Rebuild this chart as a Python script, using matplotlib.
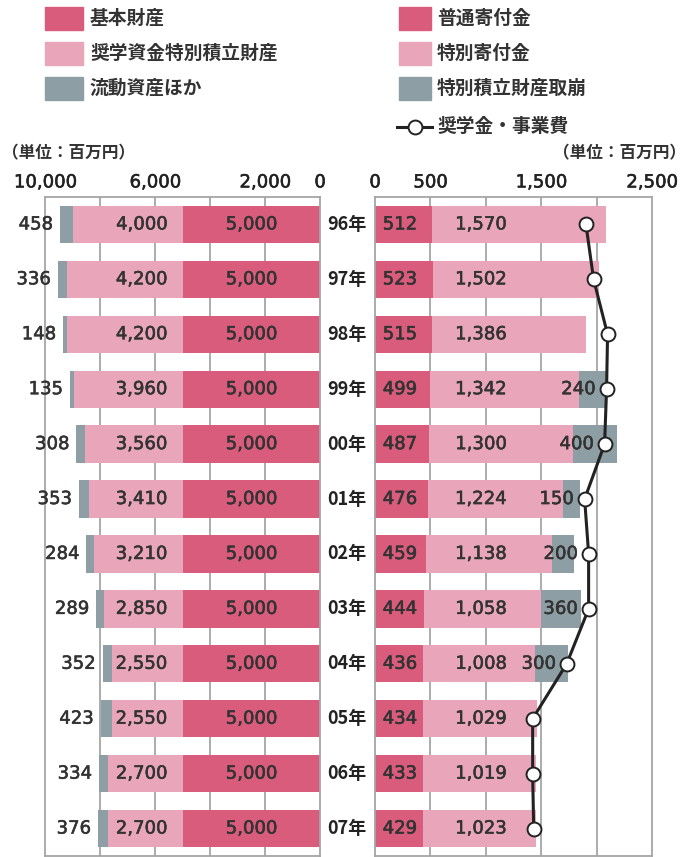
import matplotlib
matplotlib.use('Agg')
import matplotlib.pyplot as plt
import matplotlib.transforms as mtrans
import matplotlib.patheffects as pe
from matplotlib.patches import Rectangle
from matplotlib.lines import Line2D
import numpy as np

# Data
years = ['96年', '97年', '98年', '99年', '00年', '01年', '02年', '03年', '04年', '05年', '06年', '07年']
# left: 資産
kihon = [5000] * 12
shogaku = [4000, 4200, 4200, 3960, 3560, 3410, 3210, 2850, 2550, 2550, 2700, 2700]
ryudo = [458, 336, 148, 135, 308, 353, 284, 289, 352, 423, 334, 376]
# right: 収入と支出
futsu = [512, 523, 515, 499, 487, 476, 459, 444, 436, 434, 433, 429]
tokubetsu = [1570, 1502, 1386, 1342, 1300, 1224, 1138, 1058, 1008, 1029, 1019, 1023]
torikuzushi = [0, 0, 0, 240, 400, 150, 200, 360, 300, 0, 0, 0]
jigyohi = [1904, 1973, 2099, 2090, 2072, 1892, 1928, 1928, 1730, 1423, 1423, 1432]

left_ticks = [10000, 6000, 2000, 0]
right_ticks = [0, 500, 1500, 2500]

c_dark = '#d95c7c'
c_light = '#e9a6bb'
c_gray = '#8d9fa4'
c_text = '#333333'
c_grid = '#a5a5a5'
jp = ['Noto Sans CJK JP', 'DejaVu Sans']
# digits a little heavier, like the print
thick = [pe.withStroke(linewidth=0.4, foreground=c_text)]

W, H = 696, 857
fig = plt.figure(figsize=(W / 100, H / 100), dpi=100)

def fx(px):
    return px / W

def fy(py):
    return 1 - py / H

ax_top, ax_bot = 197, 856
ax1 = fig.add_axes([fx(45), fy(ax_bot), fx(320) - fx(45), (ax_bot - ax_top) / H])
ax2 = fig.add_axes([fx(375), fy(ax_bot), fx(652) - fx(375), (ax_bot - ax_top) / H])

y = np.arange(len(years))
bh = 0.68
num = dict(fontsize=13, color=c_text, va='center', path_effects=thick)

# Left panel
ax1.barh(y, kihon, height=bh, color=c_dark, zorder=2)
ax1.barh(y, shogaku, left=kihon, height=bh, color=c_light, zorder=2)
left3 = np.array(kihon) + np.array(shogaku)
ax1.barh(y, ryudo, left=left3, height=bh, color=c_gray, zorder=2)
ax1.set_xlim(10000, 0)
ax1.set_ylim(len(years) - 0.5, -0.5)

for i in range(len(years)):
    ax1.text(2500, i, f'{kihon[i]:,}', ha='center', zorder=3, **num)
    ax1.text(5560, i, f'{shogaku[i]:,}', ha='right', zorder=3, **num)
    ax1.annotate(f'{ryudo[i]:,}', xy=(left3[i] + ryudo[i], i), xytext=(-5, 0),
                 textcoords='offset points', ha='right', **num)

# Right panel
ax2.barh(y, futsu, height=bh, color=c_dark, zorder=2)
ax2.barh(y, tokubetsu, left=futsu, height=bh, color=c_light, zorder=2)
left_r = np.array(futsu) + np.array(tokubetsu)
ax2.barh(y, torikuzushi, left=left_r, height=bh, color=c_gray, zorder=2)
ax2.plot(jigyohi, y, color='#222222', lw=2.2, marker='o', markersize=10,
         markerfacecolor='white', markeredgecolor='#222222', markeredgewidth=1.4, zorder=4,
         clip_on=False)
ax2.set_xlim(0, 2500)
ax2.set_ylim(len(years) - 0.5, -0.5)

for i in range(len(years)):
    ax2.text(225, i, f'{futsu[i]:,}', ha='center', zorder=3, **num)
    ax2.text(955, i, f'{tokubetsu[i]:,}', ha='center', zorder=3, **num)
    if torikuzushi[i] > 0:
        ax2.annotate(f'{torikuzushi[i]:,}', xy=(jigyohi[i], i), xytext=(-8, 0),
                     textcoords='offset points', ha='right', zorder=3, **num)

for ax, ticks, grid in [(ax1, left_ticks, [2000, 4000, 6000, 8000]),
                        (ax2, right_ticks, [500, 1000, 1500, 2000])]:
    ax.xaxis.tick_top()
    ax.set_xticks(ticks)
    ax.set_xticklabels([f'{t:,}' for t in ticks], fontsize=13, color='#222222')
    for lab in ax.get_xticklabels():
        lab.set_path_effects([pe.withStroke(linewidth=0.4, foreground='#222222')])
    ax.tick_params(axis='x', length=0, pad=4)
    ax.set_yticks([])
    for g in grid:
        ax.axvline(g, color=c_grid, lw=1.3, zorder=1)
    for s in ax.spines.values():
        s.set_color(c_grid)
        s.set_linewidth(1.3)

# year labels between panels
trans = mtrans.blended_transform_factory(fig.transFigure, ax1.transData)
for i, yr in enumerate(years):
    ax1.text(fx(347), i, yr, transform=trans, ha='center', va='center',
             fontsize=13, family=jp, weight='bold', color='#222222')

# unit labels
fig.text(fx(2), fy(153), '（単位：百万円）', ha='left', va='center', fontsize=12, family=jp,
         weight='bold', color='#333333')
fig.text(fx(686), fy(153), '（単位：百万円）', ha='right', va='center', fontsize=12, family=jp,
         weight='bold', color='#333333')

# legend
leg_left = [('基本財産', c_dark), ('奨学資金特別積立財産', c_light), ('流動資産ほか', c_gray)]
leg_right = [('普通寄付金', c_dark), ('特別寄付金', c_light), ('特別積立財産取崩', c_gray)]
rows = [18, 53, 88]
for (lab, col), ry in zip(leg_left, rows):
    fig.add_artist(Rectangle((fx(45), fy(ry + 11.5)), fx(83) - fx(45), 23 / H,
                             transform=fig.transFigure, color=col))
    fig.text(fx(90), fy(ry), lab, ha='left', va='center', fontsize=13.5, family=jp,
             weight='bold', color='#333333')
for (lab, col), ry in zip(leg_right, rows):
    fig.add_artist(Rectangle((fx(399), fy(ry + 11.5)), fx(431) - fx(399), 23 / H,
                             transform=fig.transFigure, color=col))
    fig.text(fx(437), fy(ry), lab, ha='left', va='center', fontsize=13.5, family=jp,
             weight='bold', color='#333333')
fig.add_artist(Line2D([fx(397), fx(432)], [fy(127), fy(127)], transform=fig.transFigure,
                      color='#222222', lw=2.2))
fig.add_artist(Line2D([fx(414.5)], [fy(127)], transform=fig.transFigure, marker='o',
                      markersize=10, markerfacecolor='white', markeredgecolor='#222222',
                      markeredgewidth=1.4))
fig.text(fx(437), fy(127), '奨学金・事業費', ha='left', va='center', fontsize=13.5, family=jp,
         weight='bold', color='#333333')

fig.savefig('out.png', dpi=100)
